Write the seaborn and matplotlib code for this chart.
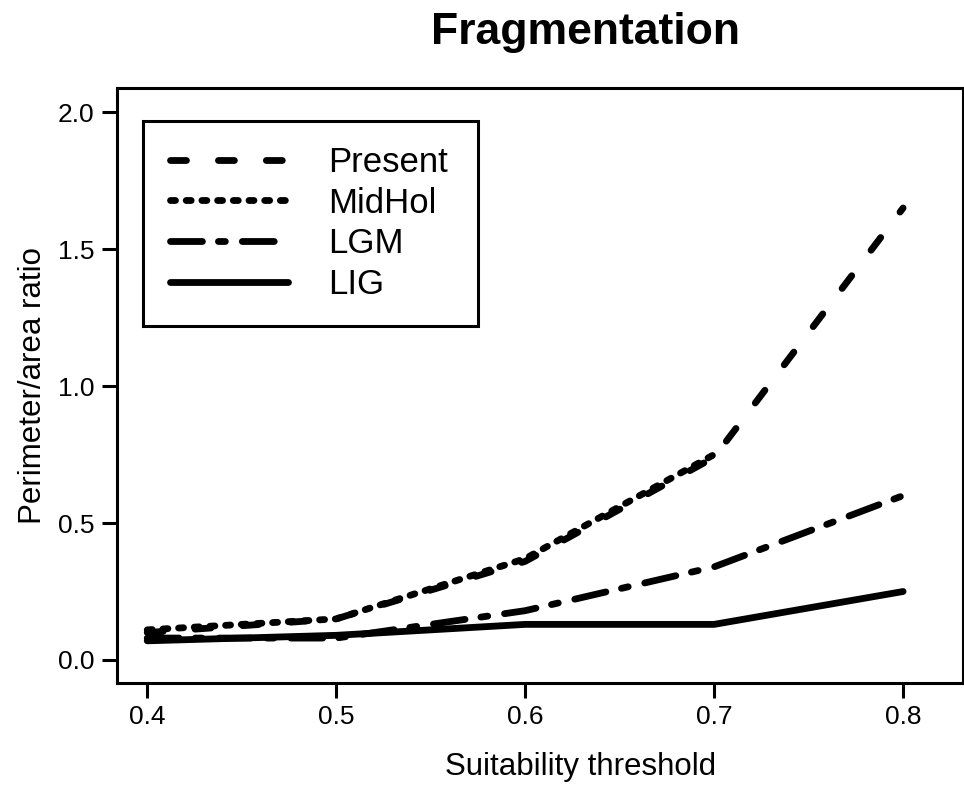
import numpy as np
import pandas as pd
import matplotlib
matplotlib.use("Agg")
import matplotlib.pyplot as plt
from matplotlib.patches import Rectangle
import seaborn as sns

# Perimeter/area ratio of suitable habitat per climate period
thresholds = [0.4, 0.5, 0.6, 0.7, 0.8]
present = [0.10, 0.15, 0.36, 0.74, 1.65]
midhol = [0.11, 0.15, 0.37, 0.75, np.nan]
lgm = [0.08, 0.08, 0.18, 0.34, 0.60]
lig = [0.07, 0.09, 0.13, 0.13, 0.25]
periods = ["Present", "MidHol", "LGM", "LIG"]

x_ticks = [0.4, 0.5, 0.6, 0.7, 0.8]
y_ticks = [0.0, 0.5, 1.0, 1.5, 2.0]

df = pd.DataFrame({
    "threshold": thresholds * 4,
    "ratio": present + midhol + lgm + lig,
    "period": np.repeat(periods, len(thresholds)),
})

sns.set_style("ticks")
plt.rcParams["font.family"] = ["Liberation Sans", "DejaVu Sans"]
plt.rcParams["text.color"] = "black"
plt.rcParams["lines.scale_dashes"] = False

W, H = 964, 787
fig = plt.figure(figsize=(W / 100, H / 100), dpi=100)
ax = fig.add_axes([117 / W, 104 / H, 846 / W, 595 / H])

line_styles = {
    "Present": (11.5, 23.0),
    "MidHol": (3.6, 7.7),
    "LGM": (23.0, 11.5, 5.0, 12.2),
    "LIG": "",
}

sns.lineplot(
    data=df, x="threshold", y="ratio", style="period",
    style_order=periods, dashes=line_styles, color="black",
    linewidth=4.9, legend=False, ax=ax,
    dash_capstyle="round", solid_capstyle="round",
    dash_joinstyle="round", solid_joinstyle="round",
)

ax.set_xlim(0.384, 0.8317)
ax.set_ylim(-0.084, 2.088)
ax.set_xticks(x_ticks)
ax.set_xticklabels([f"{v:.1f}" for v in x_ticks])
ax.set_yticks(y_ticks)
ax.set_yticklabels([f"{v:.1f}" for v in y_ticks])
ax.set_xlabel("")
ax.set_ylabel("")
ax.tick_params(axis="both", length=10.8, width=2.2, labelsize=19,
               color="black", labelcolor="black", direction="out")
ax.tick_params(axis="x", pad=5)
ax.tick_params(axis="y", pad=5.5)
for s in ax.spines.values():
    s.set_linewidth(2.2)
    s.set_color("black")

# legend, with its own box frame
leg = ax.legend(ax.lines[:4], periods, loc="upper left",
                bbox_to_anchor=((170 - 117) / 846, (683 - 146) / 595),
                frameon=False, fontsize=25, handlelength=3.4,
                handletextpad=1.15, labelspacing=0.22, borderpad=0,
                borderaxespad=0)
for t in leg.get_texts():
    t.set_color("black")
ax.add_patch(Rectangle(((143 - 117) / 846, (683 - 326) / 595),
                       (478 - 143) / 846, (326 - 121) / 595,
                       transform=ax.transAxes, fill=False,
                       edgecolor="black", linewidth=2.2, zorder=5))

fig.text(586 / W, 1 - 44 / H, "Fragmentation", ha="center", va="baseline",
         fontsize=32, fontweight="bold", color="black")
fig.text(581 / W, 12 / H, "Suitability threshold", ha="center",
         va="baseline", fontsize=22.5, color="black")
fig.text(41 / W, 1 - 385 / H, "Perimeter/area ratio", ha="center",
         va="baseline", rotation=90, rotation_mode="anchor", fontsize=22.5,
         color="black")

fig.savefig("out.png", dpi=100)
